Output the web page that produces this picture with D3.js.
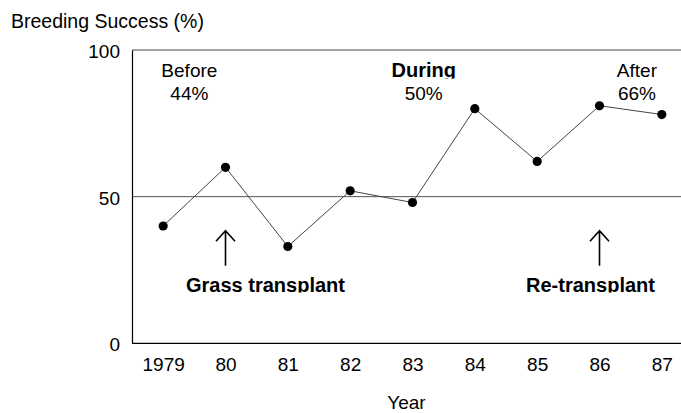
<!DOCTYPE html>
<html lang="en">

<head>
	<meta charset="UTF-8">
	<title>Breeding Success</title>

	<style>
		body {
			margin: 0;
			background: #fff;
		}

		text {
			font-family: "Liberation Sans", Arial, sans-serif;
			fill: #000;
		}
	</style>

	<script src="https://cdn.jsdelivr.net/npm/d3@7"></script>

</head>

<body>

	<script type="text/javascript">
		// data
		const years = ["1979", "80", "81", "82", "83", "84", "85", "86", "87"];
		const success = [40, 60, 33, 52, 48, 80, 62, 81, 78];
		const yTicks = [0, 50, 100];

		const periodNames = ["Before", "During", "After"];
		const periodRates = ["44%", "50%", "66%"];
		const periodYears = ["1979", "83", "86"];

		const eventNames = ["Grass transplant", "Re-transplant"];
		const eventYears = ["80", "86"];

		const width = 681;
		const height = 413;

		const plotLeft = 132, plotTop = 50, plotBottom = 343.3;

		const svg = d3.select("body").append("svg")
			.attr("width", width)
			.attr("height", height);

		// 9 years, half a step padding on each side. the frame runs past the window on the right
		const x = d3.scalePoint()
			.domain(years)
			.range([plotLeft, 693])
			.padding(0.5);

		const y = d3.scaleLinear()
			.domain([0, 100])
			.range([plotBottom, plotTop]);

		// clip used to cut the descenders like in the original (wide rect, the texts sit in translated groups)
		const defs = svg.append("defs");
		defs.append("clipPath").attr("id", "clipTop")
			.append("rect").attr("x", -1000).attr("y", 0).attr("width", 3000).attr("height", 78.5);
		defs.append("clipPath").attr("id", "clipLow")
			.append("rect").attr("x", -1000).attr("y", 0).attr("width", 3000).attr("height", 292.5);

		// top frame line and the 50% line
		svg.append("line")
			.attr("x1", plotLeft).attr("x2", width)
			.attr("y1", y(100)).attr("y2", y(100))
			.attr("stroke", "#444").attr("stroke-width", 1);

		svg.append("line")
			.attr("x1", plotLeft).attr("x2", width)
			.attr("y1", y(50)).attr("y2", y(50))
			.attr("stroke", "#555").attr("stroke-width", 1);

		// y axis
		const yAxis = svg.append("g")
			.attr("transform", `translate(${plotLeft},0)`)
			.call(d3.axisLeft(y).tickValues(yTicks).tickSize(0).tickPadding(12));
		yAxis.select(".domain").attr("stroke", "#000").attr("stroke-width", 1.2);
		yAxis.selectAll("text")
			.attr("font-size", 19)
			.attr("font-family", null)
			.attr("dy", "0.4em");

		// x axis
		const xAxis = svg.append("g")
			.attr("transform", `translate(0,${plotBottom})`)
			.call(d3.axisBottom(x).tickSize(0).tickPadding(14));
		xAxis.select(".domain")
			.attr("d", `M${plotLeft},0H${width}`)
			.attr("stroke", "#000").attr("stroke-width", 1.2);
		xAxis.selectAll("text")
			.attr("font-size", 19)
			.attr("font-family", null);

		// titles
		svg.append("text")
			.attr("x", 11)
			.attr("y", 28)
			.attr("font-size", 19.5)
			.text("Breeding Success (%)");

		svg.append("text")
			.attr("x", (plotLeft + width) / 2)
			.attr("y", 409)
			.attr("text-anchor", "middle")
			.attr("font-size", 19)
			.text("Year");

		// the line and its dots
		const line = d3.line()
			.x((d, i) => x(years[i]))
			.y(d => y(d));

		svg.append("path")
			.datum(success)
			.attr("d", line)
			.attr("fill", "none")
			.attr("stroke", "#444")
			.attr("stroke-width", 1);

		svg.selectAll(".dot")
			.data(success)
			.join("circle")
			.classed("dot", true)
			.attr("cx", (d, i) => x(years[i]))
			.attr("cy", d => y(d))
			.attr("r", 4.6)
			.attr("fill", "#000");

		// period notes, shifted a bit from their year
		const shift = [0.42, 0.18, 0.6];
		const notes = svg.selectAll(".note")
			.data(periodNames)
			.join("g")
			.classed("note", true)
			.attr("transform", (d, i) => `translate(${x(periodYears[i]) + shift[i] * x.step()},0)`);

		notes.append("text")
			.attr("y", 77)
			.attr("text-anchor", "middle")
			.attr("font-size", (d, i) => i == 1 ? 20 : 19)
			.attr("font-weight", (d, i) => i == 1 ? "bold" : "normal")
			.attr("clip-path", "url(#clipTop)")
			.text(d => d);

		notes.append("text")
			.attr("y", 100)
			.attr("text-anchor", "middle")
			.attr("font-size", 19)
			.text((d, i) => periodRates[i]);

		// transplant arrows
		const events = svg.selectAll(".event")
			.data(eventNames)
			.join("g")
			.classed("event", true)
			.attr("transform", (d, i) => `translate(${x(eventYears[i])},0)`);

		events.append("path")
			.attr("d", `M0,${y(26.4)}V${y(38.4)}M-9.5,${y(38.4) + 10.5}L0,${y(38.4)}L9.5,${y(38.4) + 10.5}`)
			.attr("fill", "none")
			.attr("stroke", "#000")
			.attr("stroke-width", 1.6);

		events.append("text")
			.attr("x", (d, i) => i == 0 ? 40 : -9)
			.attr("y", 292)
			.attr("text-anchor", "middle")
			.attr("font-size", 20)
			.attr("font-weight", "bold")
			.attr("clip-path", "url(#clipLow)")
			.text(d => d);
	</script>

</body>

</html>
